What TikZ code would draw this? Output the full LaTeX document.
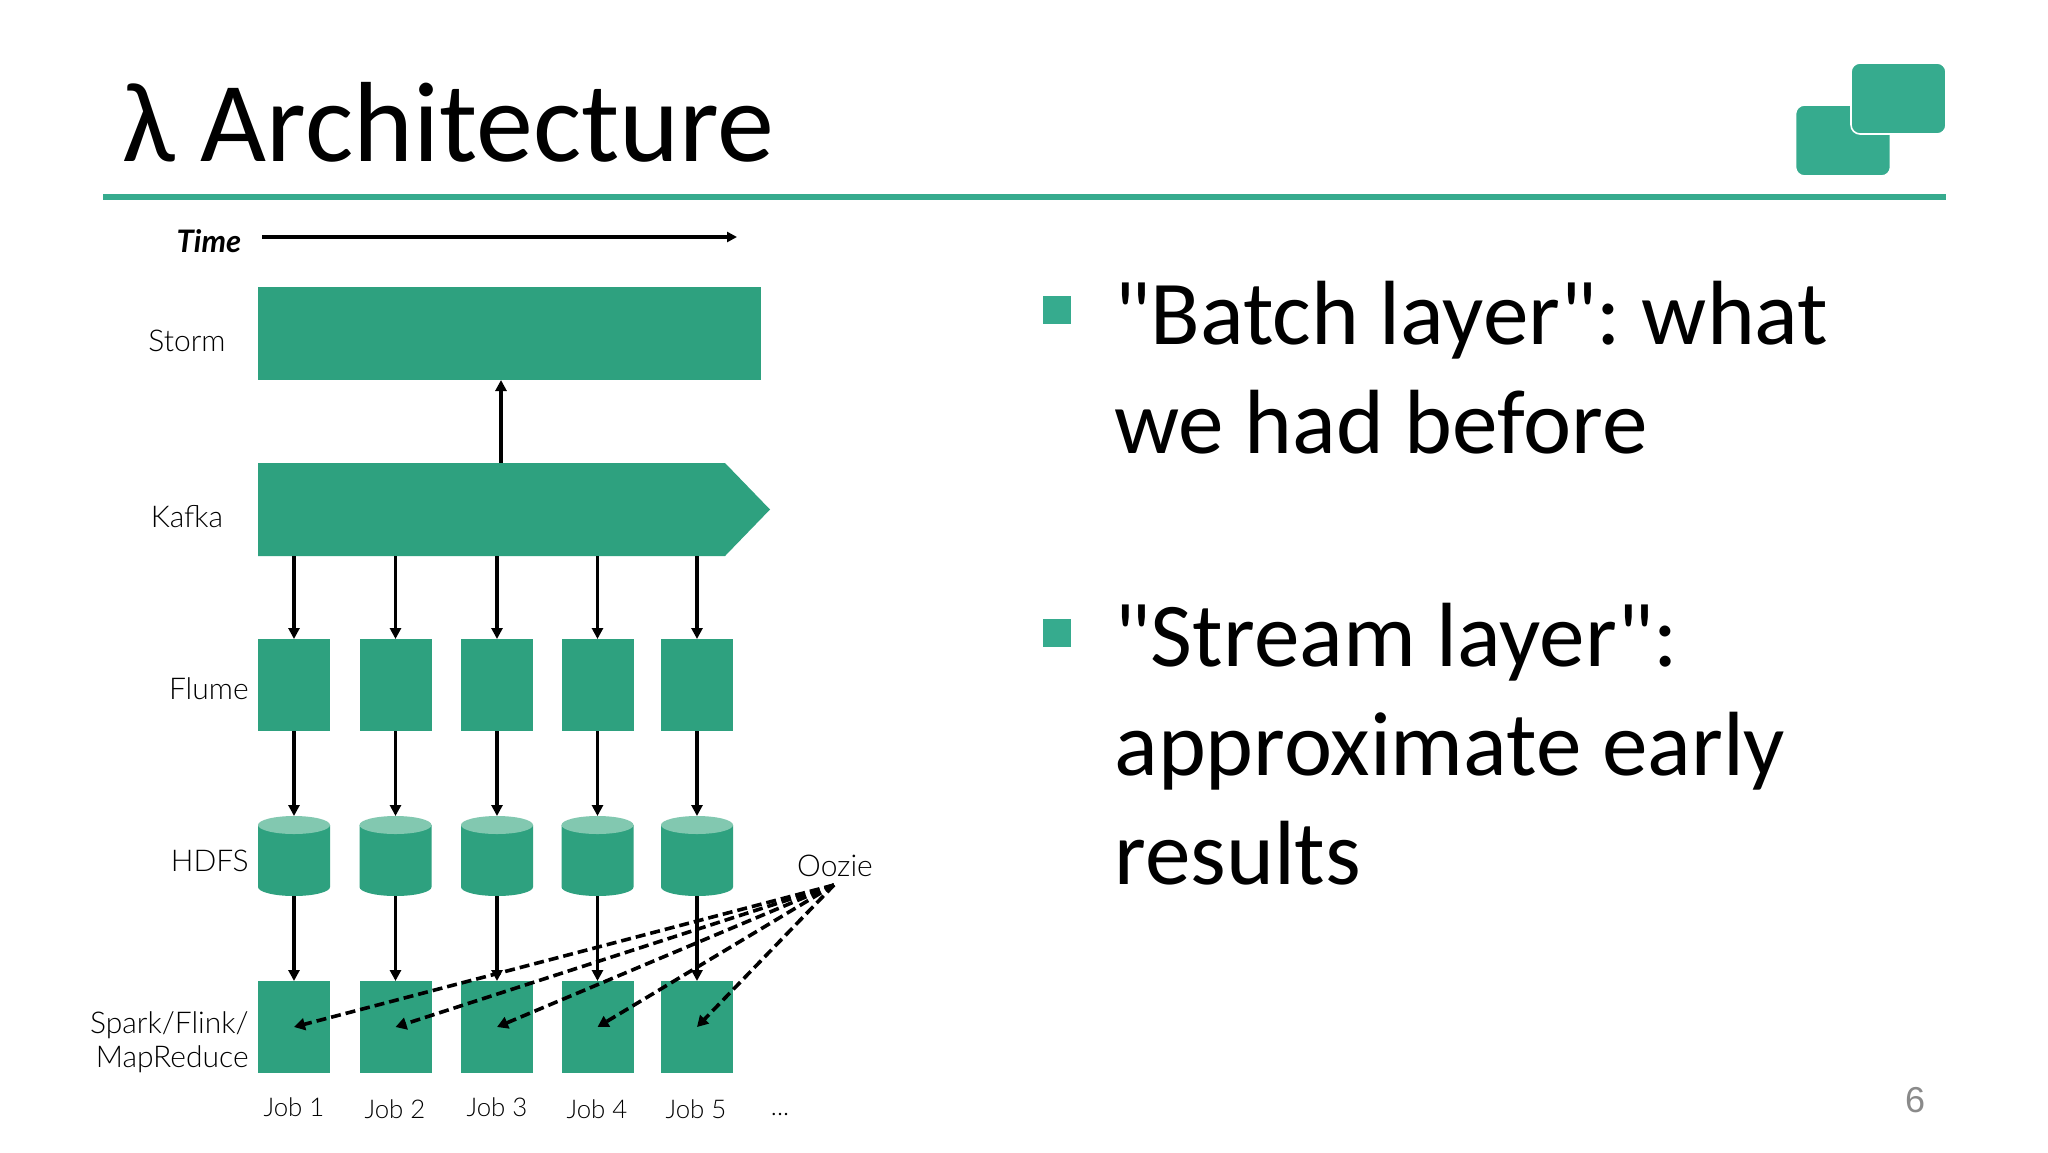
\documentclass[tikz,border=0pt]{standalone}
\usepackage{fontspec}
\setmainfont{Carlito}
\newfontfamily\bodyfont{Carlito}
\newfontfamily\labfont{Lato Light}
\newfontfamily\labbold{Lato}
\newfontfamily\numfont{Liberation Sans}
\usetikzlibrary{arrows.meta}
\definecolor{boxgreen}{HTML}{2EA17F}
\definecolor{themegreen}{HTML}{36AB8E}
\definecolor{cyltop}{HTML}{82C8B0}
\definecolor{numgrey}{HTML}{8A8A8A}
\tikzset{
  x=0.5pt,y=-0.5pt,
  box/.style={fill=boxgreen,draw=none,inner sep=0pt,outer sep=0pt},
  flow/.style={draw=black,line width=1.6pt,-{Triangle[length=5.5pt,width=5.5pt]}},
  oozieline/.style={draw=black,line width=1.8pt,dash pattern=on 5pt off 2.5pt,-{Triangle[length=5.5pt,width=6pt]}},
  lab/.style={font=\labfont\fontsize{15}{17}\selectfont,inner sep=0pt,text=black},
  joblab/.style={font=\labfont\fontsize{12.9}{14}\selectfont,inner sep=0pt,text=black},
  body/.style={font=\bodyfont\frenchspacing\fontsize{45.6}{54.5}\selectfont,inner sep=0pt,align=left,anchor=north west,text=black},
  bulletmark/.style={fill=themegreen,inner sep=0pt,minimum size=14pt},
  logobox/.style={fill=themegreen,draw=white,line width=0.8pt,rounded corners=4.5pt,inner sep=0pt,minimum width=47.5pt,minimum height=35.5pt},
}
\newcommand{\cylnode}[2]{%
  \fill[boxgreen] (#2-36,825) -- (#2-36,887) arc[x radius=18pt,y radius=4.5pt,start angle=180,end angle=360,] -- (#2+36,825) -- cycle;
  \fill[cyltop] (#2,825) ellipse[x radius=18pt,y radius=4.5pt];
  \node[inner sep=0pt,minimum width=36pt,minimum height=40pt] (#1) at (#2,856) {};
}
\begin{document}
\begin{tikzpicture}
\useasboundingbox (0,0) rectangle (2048,1152);
\fill[white] (0,0) rectangle (2048,1152);
% title and theme
\node[font=\fontsize{57}{60}\selectfont,anchor=base west,inner sep=0pt] (title) at (122,161) {λ Architecture};
\fill[themegreen] (103,194) rectangle (1946,200);
\node[logobox] (logoa) at (1843,140.5) {};
\node[logobox] (logob) at (1898.5,98.5) {};
% labels
\node[lab,font=\labbold\itshape\bfseries\fontsize{15.5}{17}\selectfont] (time) at (209,241) {Time};
\coordinate (timeend) at (737,237);
\coordinate (timestart) at (262,237);
\draw[flow,-{Triangle[length=5pt,width=5pt]}] (timestart) -- (timeend);
% Storm, Kafka
\node[box,minimum width=251.5pt,minimum height=46.5pt] (storm) at (509.5,333.5) {};
\fill[boxgreen] (258,463) -- (725,463) -- (770,509.5) -- (725,556) -- (258,556) -- cycle;
\node[inner sep=0pt,outer sep=0pt,minimum width=256pt,minimum height=46.5pt] (kafka) at (514,509.5) {};
\node[lab] (stormlab) at (187,341) {Storm};
\node[lab] (kafkalab) at (187,517) {Kafka};
% columns
\foreach \n/\cx in {1/294,2/395.5,3/497,4/597.5,5/697}{
  \node[box,minimum width=36pt,minimum height=46pt] (flume\n) at (\cx,685) {};
  \cylnode{hdfs\n}{\cx}
  \node[box,minimum width=36pt,minimum height=46pt] (job\n) at (\cx,1027) {};
  \draw[flow] (flume\n |- kafka.south) -- (flume\n.north);
  \draw[flow] (flume\n.south) -- (hdfs\n |- 0,816);
  \draw[flow] (hdfs\n |- 0,896) -- (job\n.north);
}
\coordinate (stormin) at (501,380);
\draw[flow] (stormin |- kafka.north) -- (stormin);
\node[lab,anchor=east] (flumelab) at (249,689) {Flume};
\node[lab,anchor=east] (hdfslab) at (249,861) {HDFS};
\node[lab,anchor=east,align=right] (sparklab) at (249,1042) {Spark/Flink/\\MapReduce};
\node[lab] (oozielab) at (835,866) {Oozie};
\coordinate (oozietip) at (834,885);
\foreach \n in {1,...,5}{
  \draw[oozieline] (oozietip) -- (job\n.center);
}
% job labels
\node[joblab] (jl1) at (294,1107) {Job 1};
\node[joblab] (jl2) at (395,1109) {Job 2};
\node[joblab] (jl3) at (497,1107) {Job 3};
\node[joblab] (jl4) at (597,1109) {Job 4};
\node[joblab] (jl5) at (696,1109) {Job 5};
\node[joblab,anchor=base] (jl6) at (780,1115) {...};
% bullets
\node[bulletmark] (b1) at (1057,310) {};
\node[bulletmark] (b2) at (1057,633) {};
\node[body] (t1) at (1114,281) {"Batch layer": what\\we had before};
\node[body] (t2) at (1114,603) {"Stream layer":\\approximate early\\results};
\node[font=\numfont\fontsize{18}{20}\selectfont,text=numgrey,inner sep=0pt] (pagenum) at (1915,1100) {6};
\end{tikzpicture}
\end{document}
